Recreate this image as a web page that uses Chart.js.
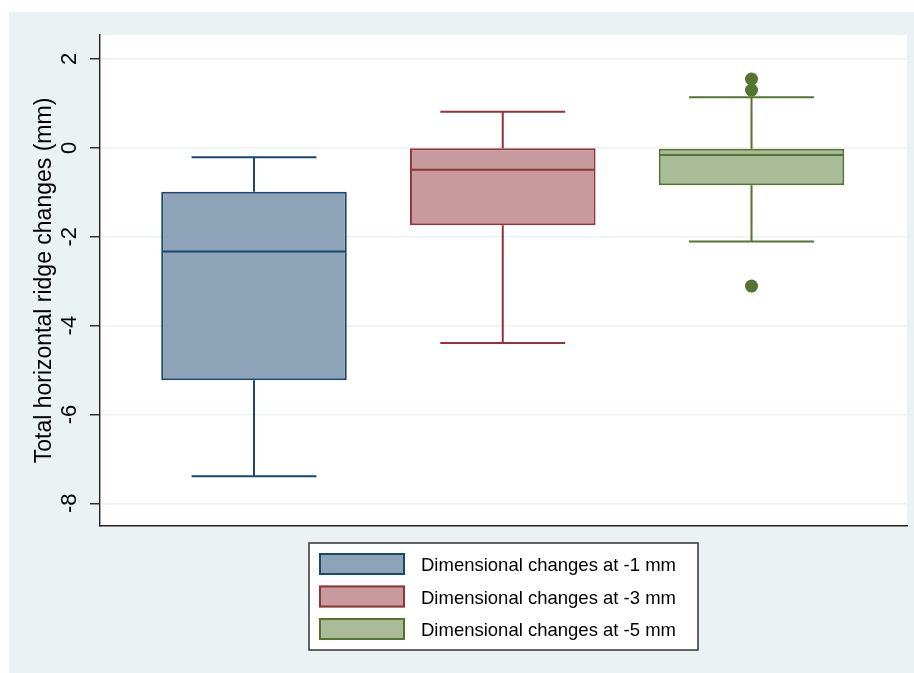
<!DOCTYPE html>
<html>
<head>
<meta charset="utf-8">
<script src="https://cdn.jsdelivr.net/npm/chart.js@4.4.1/dist/chart.umd.min.js"></script>
<style>
  html, body { margin: 0; padding: 0; background: #fff; }
  #wrap { width: 914px; height: 673px; }
</style>
</head>
<body>
<div id="wrap"><canvas id="ridge"></canvas></div>
<script>
// box plot summaries per group
const groups = ['Dimensional changes at -1 mm', 'Dimensional changes at -3 mm', 'Dimensional changes at -5 mm'];
const groupPos = [1, 2, 3];
const whiskerLow = [-7.39, -4.39, -2.11];
const quartile1 = [-5.23, -1.74, -0.84];
const medians = [-2.33, -0.49, -0.16];
const quartile3 = [-0.99, -0.01, -0.02];
const whiskerHigh = [-0.21, 0.81, 1.14];
const outlierGroup = [3, 3, 3];
const outlierValues = [1.55, 1.30, -3.11];
const yTicks = [-8, -6, -4, -2, 0, 2];

const lineColors = ['#1a476f', '#90353b', '#55752f'];
const fillColors = ['#8da3b7', '#c79a9d', '#aabb97'];
const FONT = '"Liberation Sans", Arial, Helvetica, sans-serif';
const BOX_W = 0.746;   // box width in x units
const CAP_W = 0.502;   // whisker cap width in x units

const backdrop = {
  id: 'backdrop',
  beforeDraw(chart) {
    const { ctx, chartArea: a } = chart;
    ctx.save();
    ctx.fillStyle = '#ffffff';
    ctx.fillRect(0, 0, chart.width, chart.height);
    ctx.fillStyle = '#eaf2f3';
    ctx.fillRect(9, 12, chart.width - 9, chart.height - 12);
    ctx.fillStyle = '#ffffff';
    ctx.fillRect(a.left, a.top, a.right - a.left, a.bottom - a.top);
    ctx.restore();
  }
};

const whiskers = {
  id: 'whiskers',
  afterDatasetsDraw(chart) {
    const { ctx, scales: { x, y } } = chart;
    ctx.save();
    ctx.lineWidth = 2;
    groupPos.forEach((p, i) => {
      const cx = x.getPixelForValue(p);
      const capL = x.getPixelForValue(p - CAP_W / 2);
      const capR = x.getPixelForValue(p + CAP_W / 2);
      const boxL = x.getPixelForValue(p - BOX_W / 2);
      const boxR = x.getPixelForValue(p + BOX_W / 2);
      ctx.strokeStyle = lineColors[i];
      ctx.beginPath();
      ctx.moveTo(cx, y.getPixelForValue(quartile3[i]));
      ctx.lineTo(cx, y.getPixelForValue(whiskerHigh[i]));
      ctx.moveTo(capL, y.getPixelForValue(whiskerHigh[i]));
      ctx.lineTo(capR, y.getPixelForValue(whiskerHigh[i]));
      ctx.moveTo(cx, y.getPixelForValue(quartile1[i]));
      ctx.lineTo(cx, y.getPixelForValue(whiskerLow[i]));
      ctx.moveTo(capL, y.getPixelForValue(whiskerLow[i]));
      ctx.lineTo(capR, y.getPixelForValue(whiskerLow[i]));
      ctx.moveTo(boxL + 1, y.getPixelForValue(medians[i]));
      ctx.lineTo(boxR - 1, y.getPixelForValue(medians[i]));
      ctx.stroke();
    });
    ctx.restore();
  }
};

const keyBox = {
  id: 'keyBox',
  afterDraw(chart) {
    const { ctx, chartArea: a } = chart;
    ctx.save();
    ctx.font = '18.5px ' + FONT;
    const textW = Math.max(...groups.map(g => ctx.measureText(g).width));
    const w = 10 + 86 + 16 + textW + 22;
    const h = 107;
    const left = Math.round((a.left + a.right) / 2 - w / 2);
    const top = Math.round(a.bottom + 17);
    ctx.fillStyle = '#ffffff';
    ctx.fillRect(left, top, w, h);
    ctx.strokeStyle = '#333';
    ctx.lineWidth = 1.5;
    ctx.strokeRect(left, top, w, h);
    groups.forEach((g, i) => {
      const sy = top + 10 + i * 32.5;
      ctx.fillStyle = fillColors[i];
      ctx.fillRect(left + 10, sy, 86, 22);
      ctx.strokeStyle = lineColors[i];
      ctx.lineWidth = 2;
      ctx.strokeRect(left + 11, sy + 1, 84, 20);
      ctx.fillStyle = '#000';
      ctx.textBaseline = 'middle';
      ctx.fillText(g, left + 112, sy + 13);
    });
    ctx.restore();
  }
};

new Chart(document.getElementById('ridge'), {
  type: 'bar',
  data: {
    datasets: [
      {
        label: 'IQR',
        data: groupPos.map((p, i) => ({ x: p, y: [quartile1[i], quartile3[i]] })),
        backgroundColor: fillColors,
        borderColor: lineColors,
        borderWidth: 2,
        borderSkipped: false,
        barPercentage: BOX_W,
        categoryPercentage: 1
      },
      {
        type: 'scatter',
        label: 'Outliers',
        data: outlierValues.map((v, i) => ({ x: outlierGroup[i], y: v })),
        backgroundColor: lineColors[2],
        borderWidth: 0,
        pointRadius: 6.5
      }
    ]
  },
  options: {
    responsive: true,
    maintainAspectRatio: false,
    animation: false,
    events: [],
    layout: { padding: { left: 0, top: 35, right: 7, bottom: 147 } },
    scales: {
      x: {
        type: 'linear',
        min: 0.381,
        max: 3.625,
        offset: false,
        // one tick per group keeps the bar ruler at the group spacing
        afterBuildTicks: s => { s.ticks = groupPos.map(v => ({ value: v })); },
        afterFit: s => { s.height = 0; },
        grid: { display: false, drawTicks: false },
        ticks: { display: false },
        border: { display: true, color: '#222', width: 1.4 }
      },
      y: {
        min: -8.51,
        max: 2.54,
        afterBuildTicks: s => { s.ticks = yTicks.map(v => ({ value: v })); },
        afterFit: s => { s.width = 100; },
        border: { display: true, color: '#222', width: 1.4 },
        grid: { color: '#eaf2f3', lineWidth: 1.5, tickColor: '#222', tickLength: 10, tickWidth: 1.4 },
        ticks: {
          minRotation: 90,
          maxRotation: 90,
          crossAlign: 'center',
          padding: 10,
          color: '#000',
          font: { family: FONT, size: 22 }
        },
        title: {
          display: true,
          text: 'Total horizontal ridge changes (mm)',
          color: '#000',
          font: { family: FONT, size: 23 },
          padding: { top: 31, bottom: 0 }
        }
      }
    },
    plugins: {
      legend: { display: false },
      tooltip: { enabled: false }
    }
  },
  plugins: [backdrop, whiskers, keyBox]
});
</script>
</body>
</html>
